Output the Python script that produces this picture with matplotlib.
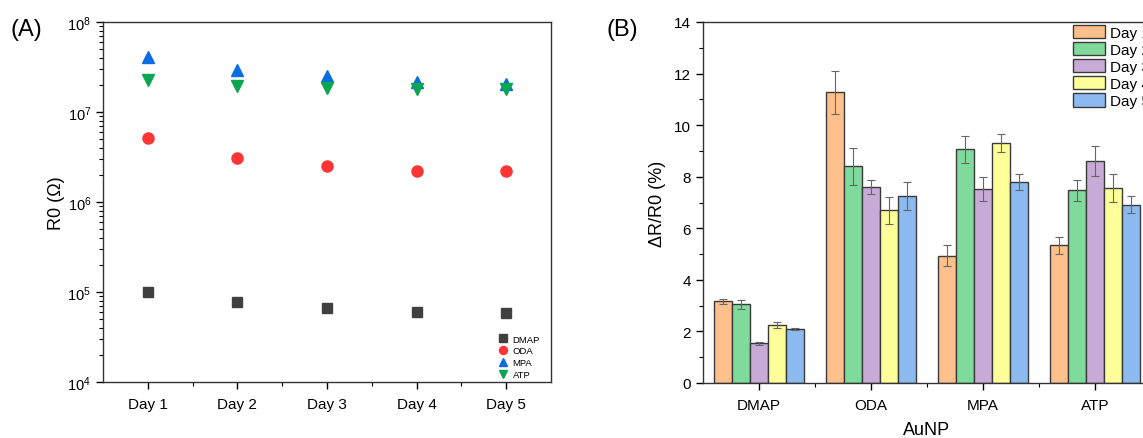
import numpy as np
import matplotlib
matplotlib.use('Agg')
import matplotlib.pyplot as plt
from matplotlib.ticker import MultipleLocator, FixedLocator, LogLocator, NullFormatter

plt.rcParams['font.family'] = ['Liberation Sans', 'DejaVu Sans']

# panel A data: R0 (ohm) per day
days = ['Day 1', 'Day 2', 'Day 3', 'Day 4', 'Day 5']
r0_dmap = [1.0e5, 7.8e4, 6.6e4, 6.0e4, 5.9e4]
r0_oda = [5.2e6, 3.1e6, 2.5e6, 2.2e6, 2.2e6]
r0_mpa = [4.05e7, 2.95e7, 2.53e7, 2.14e7, 2.05e7]
r0_atp = [2.27e7, 1.96e7, 1.86e7, 1.80e7, 1.80e7]

# panel B data: dR/R0 (%) per AuNP and day
aunp = ['DMAP', 'ODA', 'MPA', 'ATP']
dr_day1 = [3.17, 11.27, 4.94, 5.34]
dr_day2 = [3.05, 8.40, 9.06, 7.48]
dr_day3 = [1.54, 7.61, 7.51, 8.60]
dr_day4 = [2.26, 6.70, 9.31, 7.56]
dr_day5 = [2.09, 7.24, 7.78, 6.91]
err_day1 = [0.10, 0.83, 0.42, 0.34]
err_day2 = [0.18, 0.71, 0.53, 0.41]
err_day3 = [0.05, 0.27, 0.47, 0.58]
err_day4 = [0.12, 0.53, 0.34, 0.54]
err_day5 = [0.05, 0.54, 0.31, 0.33]

W, H = 1143, 439
fig = plt.figure(figsize=(W / 100, H / 100), dpi=100)


def px_axes(left, top, right, bottom):
    return fig.add_axes([left / W, 1 - bottom / H, (right - left) / W, (bottom - top) / H])


# ---- panel A ----
ax1 = px_axes(103, 23, 551, 383)
x = np.arange(1, 6)
ax1.plot(x, r0_dmap, 's', color='#404040', ms=7.5, ls='none', label='DMAP')
ax1.plot(x, r0_oda, 'o', color='#fb3535', ms=8, ls='none', label='ODA')
ax1.plot(x, r0_mpa, '^', color='#0a6de0', ms=8.5, ls='none', label='MPA')
ax1.plot(x, r0_atp, 'v', color='#0ba553', ms=8.5, ls='none', label='ATP')
ax1.set_yscale('log')
ax1.set_ylim(1e4, 1e8)
ax1.set_xlim(0.5, 5.5)
ax1.set_xticks(x)
ax1.set_xticklabels(days, fontsize=11)
ax1.xaxis.set_minor_locator(FixedLocator([1.5, 2.5, 3.5, 4.5]))
ax1.yaxis.set_major_locator(LogLocator(base=10, numticks=10))
ax1.yaxis.set_minor_locator(LogLocator(base=10, subs=np.arange(2, 10), numticks=10))
ax1.yaxis.set_minor_formatter(NullFormatter())
ax1.tick_params(axis='y', which='major', labelsize=10.5, length=5, width=1)
ax1.tick_params(axis='y', which='minor', length=3, width=0.8)
ax1.tick_params(axis='x', which='major', length=5, width=1, pad=6)
ax1.tick_params(axis='x', which='minor', length=3, width=0.8)
ax1.set_ylabel('R0 (\u03a9)', fontsize=13, labelpad=2)
for s in ax1.spines.values():
    s.set_linewidth(1.0)
    s.set_color('#333333')
ax1.legend(loc='lower left', bbox_to_anchor=(0.885, 0.008), frameon=False,
           fontsize=6.8, handlelength=0.8, handletextpad=0.6, labelspacing=0.3,
           borderpad=0, borderaxespad=0, markerscale=0.72)
fig.text(10 / W, 1 - 30 / H, '(A)', fontsize=17, va='center', ha='left')

# ---- panel B ----
ax2 = px_axes(703, 23, 1151, 384)
g = np.arange(len(aunp))
bw = 0.16
series = [dr_day1, dr_day2, dr_day3, dr_day4, dr_day5]
errs = [err_day1, err_day2, err_day3, err_day4, err_day5]
colors = ['#ffc08c', '#7fda9b', '#c7aad6', '#ffff99', '#8cb9ef']
for i, (vals, e, c) in enumerate(zip(series, errs, colors)):
    ax2.bar(g + (i - 2) * bw, vals, bw, color=c, edgecolor='#3a3a3a', linewidth=1.0,
            yerr=e, capsize=3, error_kw=dict(ecolor='#666666', elinewidth=0.8, capthick=0.8),
            label=days[i], zorder=2)
ax2.set_xlim(-0.5, 3.5)
ax2.set_ylim(0, 14)
ax2.set_xticks(g)
ax2.set_xticklabels(aunp, fontsize=11)
ax2.xaxis.set_minor_locator(FixedLocator([0.5, 1.5, 2.5]))
ax2.yaxis.set_major_locator(MultipleLocator(2))
ax2.yaxis.set_minor_locator(MultipleLocator(1))
ax2.tick_params(axis='y', which='major', labelsize=11, length=5, width=1)
ax2.tick_params(axis='y', which='minor', length=3, width=0.8)
ax2.tick_params(axis='x', which='major', length=5, width=1, pad=6)
ax2.tick_params(axis='x', which='minor', length=3, width=0.8)
ax2.set_ylabel('\u0394R/R0 (%)', fontsize=13, labelpad=6)
ax2.set_xlabel('AuNP', fontsize=13, labelpad=6)
for s in ax2.spines.values():
    s.set_linewidth(1.0)
    s.set_color('#333333')
ax2.legend(loc='upper left', bbox_to_anchor=(0.826, 0.992), frameon=False,
           fontsize=11, handlelength=2.1, handleheight=0.95, handletextpad=0.3,
           labelspacing=0.15, borderpad=0, borderaxespad=0)
fig.text(606 / W, 1 - 30 / H, '(B)', fontsize=17, va='center', ha='left')

fig.savefig('out.png', dpi=100)
